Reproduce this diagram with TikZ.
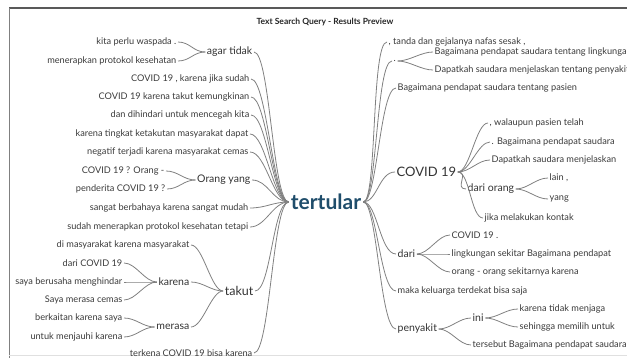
\documentclass[tikz,border=0pt]{standalone}
\usepackage{fontspec}
\setmainfont{Lato}
\usetikzlibrary{positioning}
\definecolor{rootblue}{HTML}{1F4D6B}
\definecolor{linegray}{HTML}{808080}
\definecolor{leafgray}{HTML}{3A3A3A}

\begin{document}
\begin{tikzpicture}[x=1pt,y=-1pt,
    leaf/.style={font=\fontsize{9.2}{11}\selectfont,text=leafgray,inner sep=1.5pt},
    mid/.style={font=\fontsize{10.5}{12}\selectfont,text=black!80,inner sep=1.5pt},
    big/.style={font=\fontsize{13}{15}\selectfont,text=black!80,inner sep=1.5pt},
    branch/.style={draw=linegray,line width=0.8pt}]
    \useasboundingbox (0,0) rectangle (627,358);
    \clip (0,0) rectangle (627,358);
    % frame
    \draw[black!65,line width=1.6pt] (9,8) -- (627,8);
    \draw[black!50,line width=0.8pt] (9,8) -- (9,358);
    \draw[black!12,line width=0.8pt] (9,355) -- (627,355);

    \node[font=\bfseries\fontsize{8.5}{10}\selectfont,text=black!85] (title) at (325,22) {Text Search Query - Results Preview};
    \node[font=\bfseries\fontsize{21}{24}\selectfont,text=rootblue,inner sep=2pt] (T) at (326,202) {tertular};

    % left side
    \foreach \n/\x/\y/\t in {
        l1/251/79/{COVID 19 , karena jika sudah},
        l2/251/97/{COVID 19 karena takut kemungkinan},
        l3/251/115/{dan dihindari untuk mencegah kita},
        l4/250/134/{karena tingkat ketakutan masyarakat dapat},
        l5/250/152/{negatif terjadi karena masyarakat cemas},
        l6/250/208/{sangat berbahaya karena sangat mudah},
        l7/250/227/{sudah menerapkan protokol kesehatan tetapi},
        l8/254/353/{terkena COVID 19 bisa karena},
        a1/178/42/{kita perlu waspada .},
        a2/178/61/{menerapkan protokol kesehatan},
        o1/166/171/{COVID 19 ? Orang -},
        o2/167/189/{penderita COVID 19 ?},
        t1/191/245/{di masyarakat karena masyarakat},
        k1/124/263/{dari COVID 19},
        k2/124/282/{saya berusaha menghindar},
        k3/124/300/{Saya merasa cemas},
        m1/124/318/{berkaitan karena saya},
        m2/124/337/{untuk menjauhi karena}}
        \node[leaf,anchor=east] (\n) at (\x,\y) {\t};
    \foreach \n/\x/\y/\t in {
        agar/254/52/{agar tidak},
        orang/252/180/{Orang yang},
        kar/191/282/{karena},
        mer/191/327/{merasa}}
        \node[mid,anchor=east] (\n) at (\x,\y) {\t};
    \node[big,font=\fontsize{12.5}{15}\selectfont,anchor=east] (takut) at (255,291) {takut};

    % right side
    \foreach \n/\x/\y/\t in {
        r1/387/42/{, tanda dan gejalanya nafas sesak ,},
        dot/392/61/{.},
        r2/396/88/{Bagaimana pendapat saudara tentang pasien},
        r3/396/291/{maka keluarga terdekat bisa saja},
        d1/433/52/{Bagaimana pendapat saudara tentang lingkungan},
        d2/433/70/{Dapatkah saudara menjelaskan tentang penyakit},
        c1/488/123/{, walaupun pasien telah},
        c2/490/142/{. Bagaimana pendapat saudara},
        c3/490/160/{Dapatkah saudara menjelaskan},
        c4/483/218/{jika melakukan kontak},
        g1/548/178/{lain ,},
        g2/548/199/{yang},
        e1/450/235/{COVID 19 .},
        e2/450/254/{lingkungan sekitar Bagaimana pendapat},
        e3/450/272/{orang - orang sekitarnya karena},
        p1/471/345/{tersebut Bagaimana pendapat saudara},
        i1/518/309/{karena tidak menjaga},
        i2/518/327/{sehingga memilih untuk}}
        \node[leaf,anchor=west] (\n) at (\x,\y) {\t};
    \foreach \n/\x/\y/\t in {
        dari/396/254/{dari},
        pen/396/329/{penyakit},
        dor/466/189/{dari orang},
        ini/471/318/{ini}}
        \node[mid,anchor=west] (\n) at (\x,\y) {\t};
    \node[big,anchor=west] (covid) at (395,172) {COVID 19};

    % branches to the root
    \foreach \c in {agar,l1,l2,l3,l4,l5,orang,l6,l7,takut,l8}
        \draw[branch] (\c.east) .. controls +(16,0) and +(-16,0) .. (T.west);
    \foreach \c in {r1,dot,r2,covid,dari,r3,pen}
        \draw[branch] (T.east) .. controls +(14,0) and +(-16,0) .. (\c.west);
    % smaller branches
    \foreach \a/\b in {a1/agar,a2/agar,o1/orang,o2/orang,t1/takut,kar/takut,mer/takut,
        k1/kar,k2/kar,k3/kar,m1/mer,m2/mer,dot/d1,dot/d2,covid/c1,covid/c2,covid/c3,
        covid/dor,covid/c4,dor/g1,dor/g2,dari/e1,dari/e2,dari/e3,pen/ini,pen/p1,ini/i1,ini/i2}
        \draw[branch] (\a.east) .. controls +(12,0) and +(-12,0) .. (\b.west);
\end{tikzpicture}
\end{document}
